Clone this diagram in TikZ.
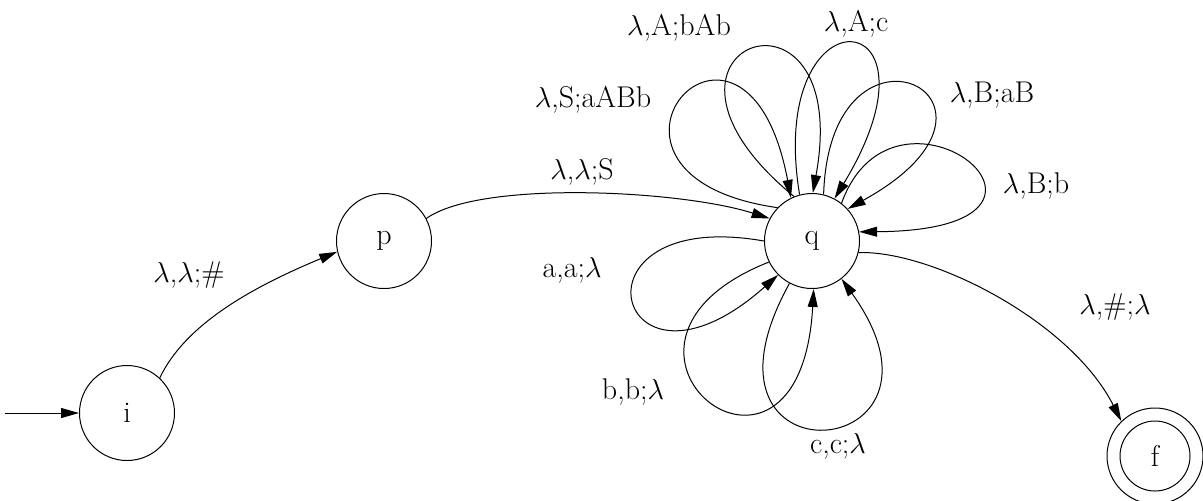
\documentclass[tikz,border=0pt]{standalone}
\usetikzlibrary{arrows.meta}
\begin{document}
\begin{tikzpicture}[x=0.5pt,y=-0.5pt,line width=0.5pt,
  state/.style={circle,draw,minimum size=47.5pt,inner sep=0pt,font=\fontsize{15}{17}\selectfont},
  lbl/.style={inner sep=0pt,font=\fontsize{15}{17}\selectfont},
  tr/.style={-{Triangle[length=9pt,width=5pt]}}]
\useasboundingbox (0,0) rectangle (1203,500);
% states
\node[state] (i) at (127,413) {i};
\node[state] (p) at (384,241) {p};
\node[state] (q) at (812,241) {q};
\node[state,minimum size=48pt] (f) at (1155,456) {f};
\draw (f.center) circle[radius=17.5pt];
% initial arrow
\coordinate (s0) at (5,413);
\draw[tr] (s0) -- (i);
% transitions
\draw[tr] (i.47) .. controls (185,325) and (250,288) .. (p.193);
\draw[tr] (p.28) .. controls (480,180) and (680,190) .. (q.152);
\draw[tr] (q.-14) .. controls (930,250) and (1070,320) .. (f.134);
% loops on q (upper)
\draw[tr] (q.136) .. controls (550,175) and (745,-45) .. (q.116);
\draw[tr] (q.112) .. controls (610,45) and (855,-40) .. (q.89);
\draw[tr] (q.105) .. controls (765,-15) and (955,0) .. (q.62);
\draw[tr] (q.76) .. controls (830,-5) and (1045,100) .. (q.42);
\draw[tr] (q.52) .. controls (895,55) and (1115,230) .. (q.11);
% loops on q (lower)
\draw[tr] (q.180) .. controls (560,205) and (615,420) .. (q.225);
\draw[tr] (q.206) .. controls (560,345) and (800,535) .. (q.272);
\draw[tr] (q.242) .. controls (675,490) and (975,465) .. (q.308);
% labels
\node[lbl] (l1) at (189,275) {$\lambda$,$\lambda$;\#};
\node[lbl] (l2) at (582,172) {$\lambda$,$\lambda$;S};
\node[lbl] (l3) at (1115,307) {$\lambda$,\#;$\lambda$};
\node[lbl] (l4) at (593,100) {$\lambda$,S;aABb};
\node[lbl] (l5) at (679,28) {$\lambda$,A;bAb};
\node[lbl] (l6) at (856,24) {$\lambda$,A;c};
\node[lbl] (l7) at (992,95) {$\lambda$,B;aB};
\node[lbl] (l8) at (1036,186) {$\lambda$,B;b};
\node[lbl] (l9) at (572,270) {a,a;$\lambda$};
\node[lbl] (l10) at (633,392) {b,b;$\lambda$};
\node[lbl] (l11) at (838,446) {c,c;$\lambda$};
\end{tikzpicture}
\end{document}
